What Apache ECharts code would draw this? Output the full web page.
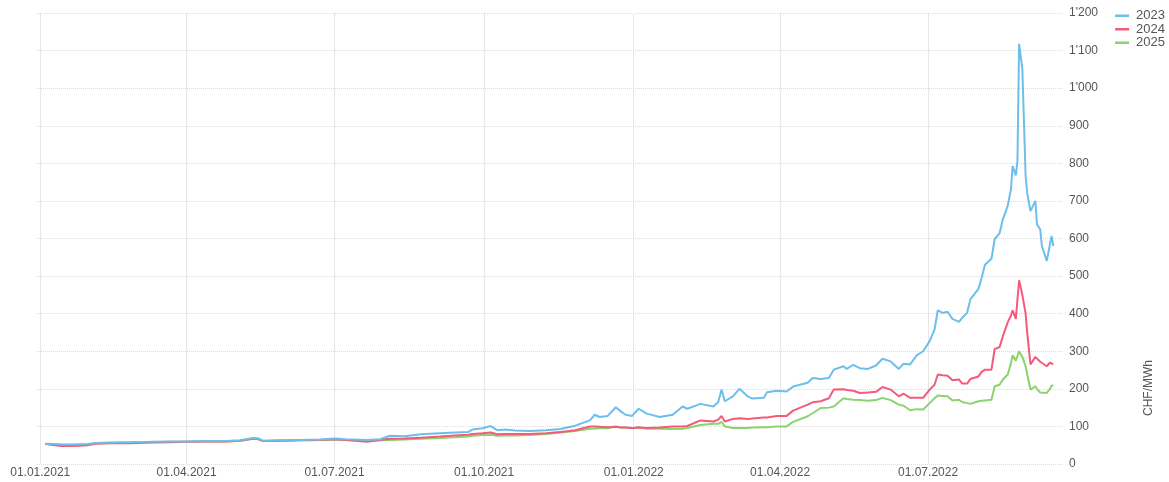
<!DOCTYPE html>
<html>
<head>
<meta charset="utf-8">
<script src="https://cdn.jsdelivr.net/npm/echarts@6/dist/echarts.min.js"></script>
<style>
html,body{margin:0;padding:0;background:#fff;}
#chart{width:1169px;height:482px;}
</style>
</head>
<body>
<div id="chart"></div>
<script>
const seriesNames = ['2023', '2024', '2025'];
const dates = [
'2021-01-04','2021-01-10','2021-01-14','2021-01-22','2021-01-30','2021-02-04','2021-02-13','2021-02-25','2021-03-10','2021-03-22',
'2021-04-01','2021-04-12','2021-04-25','2021-05-04','2021-05-12','2021-05-15','2021-05-18','2021-05-29','2021-06-10','2021-06-22',
'2021-07-01','2021-07-08','2021-07-21','2021-07-29','2021-08-04','2021-08-13','2021-08-23','2021-09-04','2021-09-13','2021-09-21',
'2021-09-24','2021-09-30','2021-10-05','2021-10-09','2021-10-14','2021-10-20','2021-10-29','2021-11-08','2021-11-17','2021-11-26',
'2021-12-05','2021-12-08','2021-12-11','2021-12-16','2021-12-21','2021-12-24','2021-12-27','2021-12-31','2022-01-04','2022-01-09',
'2022-01-17','2022-01-25','2022-01-31','2022-02-03','2022-02-11','2022-02-19','2022-02-22','2022-02-24','2022-02-26','2022-03-03',
'2022-03-07','2022-03-12','2022-03-15','2022-03-22','2022-03-24','2022-03-30','2022-04-05','2022-04-09','2022-04-18','2022-04-21',
'2022-04-26','2022-05-01','2022-05-04','2022-05-10','2022-05-12','2022-05-16','2022-05-20','2022-05-25','2022-05-30','2022-06-03',
'2022-06-08','2022-06-13','2022-06-16','2022-06-20','2022-06-24','2022-06-28','2022-07-02','2022-07-05','2022-07-07','2022-07-10',
'2022-07-13','2022-07-16','2022-07-20','2022-07-22','2022-07-25','2022-07-27','2022-08-01','2022-08-03','2022-08-05','2022-08-09',
'2022-08-11','2022-08-14','2022-08-16','2022-08-19','2022-08-21','2022-08-22','2022-08-24','2022-08-25','2022-08-26','2022-08-28',
'2022-08-30','2022-08-31','2022-09-02','2022-09-05','2022-09-06','2022-09-08','2022-09-09','2022-09-12','2022-09-14','2022-09-15',
'2022-09-16'
];
const s2023 = [
54,53,52,52,53,56,57,58,59,60,
60,61,61,63,69,68,62,63,64,65,
68,66,64,66,75,74,79,82,84,85,
92,95,101,90,92,89,88,90,93,102,
116,131,125,128,151,140,131,128,147,134,
125,131,153,147,160,153,165,198,167,180,
200,180,174,176,191,195,193,206,216,229,
226,229,251,260,253,264,255,253,262,280,
273,253,267,265,289,300,327,358,409,402,
405,386,378,389,402,438,466,496,530,546,
598,614,651,687,731,793,768,807,1118,1051,
767,720,673,700,638,624,580,540,585,607,
580
];
const s2024 = [
54,50,48,48,50,54,55,55,57,58,
59,60,60,62,68,67,61,62,63,64,
66,64,59,64,67,68,70,73,76,78,
80,82,84,79,80,80,80,82,85,90,
100,100,99,98,99,97,97,96,97,96,
97,100,100,101,116,113,118,128,113,120,
122,120,121,124,124,128,128,142,158,164,
167,175,198,199,197,195,189,190,192,205,
198,180,187,176,176,176,198,211,238,236,
235,223,225,214,214,226,233,245,251,251,
306,311,340,377,395,409,386,386,489,450,
400,349,265,285,282,272,269,260,270,275,
265
];
const s2025 = [
53,52,51,51,52,55,56,57,58,59,
59,60,60,62,67,66,61,62,63,64,
65,64,62,63,64,65,67,69,71,73,
75,77,78,75,76,76,77,80,84,88,
94,94,96,95,100,97,97,95,98,94,
94,93,94,96,104,107,107,112,100,96,
96,96,97,98,98,100,100,112,127,135,
149,150,153,175,173,171,170,168,170,176,
170,158,155,143,146,145,162,175,182,181,
180,169,171,165,162,160,167,168,169,171,
207,211,225,238,269,289,275,271,300,285,
260,238,198,207,200,190,189,189,200,209,
209
];
const xTickDates = ['2021-01-01','2021-04-01','2021-07-01','2021-10-01','2022-01-01','2022-04-01','2022-07-01'];
const xRange = ['2020-12-30', '2022-09-22'];
const yRange = [0, 1200];
const yStep = 100;
const yAxisTitle = 'CHF/MWh';
const colors = ['#6dbfeb', '#f45a7c', '#8bd36c'];

function toTs(s) {
  const p = s.split('-');
  return new Date(+p[0], +p[1] - 1, +p[2]).getTime();
}
function fmtDate(v) {
  const d = new Date(v);
  const dd = String(d.getDate()).padStart(2, '0');
  const mm = String(d.getMonth() + 1).padStart(2, '0');
  return dd + '.' + mm + '.' + d.getFullYear();
}
function fmtNum(v) {
  return String(v).replace(/\B(?=(\d{3})+(?!\d))/g, "'");
}

const allSeries = [s2023, s2024, s2025];
const chart = echarts.init(document.getElementById('chart'), null, {renderer: 'canvas'});
const tickTs = xTickDates.map(toTs);

chart.setOption({
  animation: false,
  backgroundColor: '#fff',
  textStyle: {fontFamily: 'Liberation Sans, Arial, sans-serif'},
  grid: {left: 37, right: 106, top: 13, bottom: 18, containLabel: false},
  legend: {
    orient: 'vertical',
    right: 4,
    top: 9,
    padding: 0,
    itemGap: 0,
    itemWidth: 14,
    itemHeight: 2.5,
    icon: 'rect',
    textStyle: {color: '#555', fontSize: 13, lineHeight: 13.5, padding: [0, 0, 0, 2]},
    data: seriesNames
  },
  xAxis: {
    type: 'value',
    min: toTs(xRange[0]),
    max: toTs(xRange[1]),
    axisLine: {show: false},
    axisTick: {show: false, customValues: tickTs},
    axisLabel: {
      customValues: tickTs,
      color: '#555',
      fontSize: 12,
      margin: 3,
      showMinLabel: true,
      showMaxLabel: true,
      hideOverlap: false,
      formatter: function (v) { return fmtDate(v); }
    },
    splitLine: {show: true, lineStyle: {color: '#e6e6e6', width: 1, type: 'solid'}}
  },
  yAxis: {
    type: 'value',
    position: 'right',
    min: yRange[0],
    max: yRange[1],
    interval: yStep,
    axisLine: {show: false},
    axisTick: {show: false},
    axisLabel: {color: '#555', fontSize: 12, margin: 6, formatter: function (v) { return fmtNum(v); }},
    splitLine: {show: true, lineStyle: {color: '#dcdcdc', width: 1, type: 'dotted'}}
  },
  graphic: [{
    type: 'text',
    x: 1149,
    y: 388,
    rotation: Math.PI / 2,
    style: {text: yAxisTitle, fill: '#555', font: '12px Liberation Sans, Arial, sans-serif', align: 'center', verticalAlign: 'middle'}
  }],
  series: seriesNames.map(function (name, i) {
    return {
      name: name,
      type: 'line',
      showSymbol: false,
      symbol: 'none',
      color: colors[i],
      lineStyle: {width: 2, color: colors[i]},
      z: 3 - i,
      data: dates.map(function (d, j) { return [toTs(d), allSeries[i][j]]; })
    };
  })
});
</script>
</body>
</html>
